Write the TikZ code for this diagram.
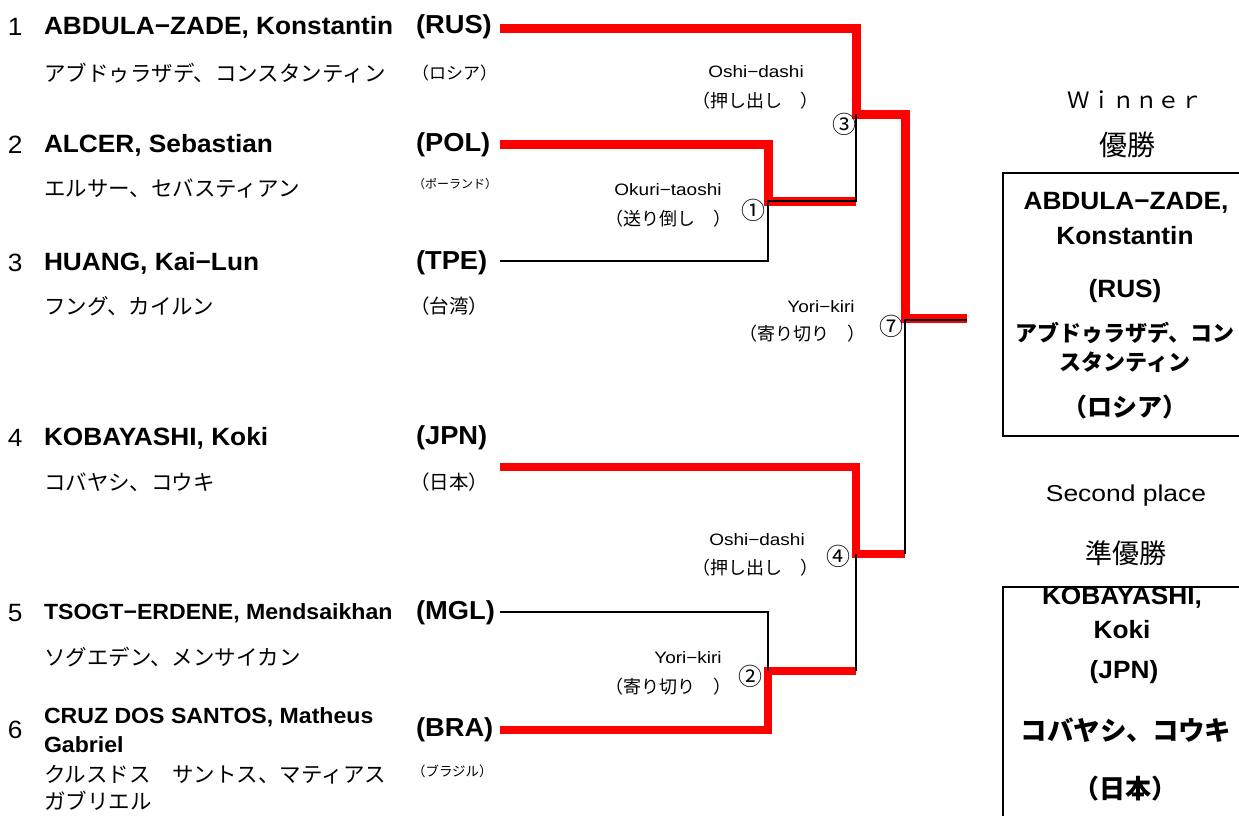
\documentclass[tikz,border=0pt]{standalone}
\usepackage{fontspec}
\setmainfont{Liberation Sans}[FakeStretch=1.05]
\newfontfamily\wide{Liberation Sans}[FakeStretch=1.15]
\newfontfamily\cjk{Noto Sans CJK JP}
\begin{document}
\begin{tikzpicture}[x=1pt,y=-1pt,
  every node/.style={inner sep=0pt,outer sep=0pt},
  num/.style={anchor=west,font=\fontsize{25}{25}\selectfont},
  nm/.style={anchor=west,font=\fontsize{25}{25}\selectfont\bfseries},
  nms/.style={anchor=west,font=\fontsize{22}{22}\selectfont\bfseries},
  jp/.style={anchor=west,font=\cjk\fontsize{21.5}{21.5}\selectfont},
  ctry/.style={anchor=west,font=\fontsize{26}{26}\selectfont\bfseries},
  ctryjp/.style={anchor=west,font=\cjk\fontsize{#1}{#1}\selectfont},
  tech/.style={font=\wide\fontsize{16.5}{16.5}\selectfont},
  techjp/.style={font=\cjk\fontsize{18}{18}\selectfont},
  circ/.style={font=\cjk\fontsize{24}{24}\selectfont},
  win/.style={line width=9pt,red,line join=miter},
  winb/.style={line width=7.5pt,red,line join=miter},
  lose/.style={line width=1.6pt,black},
  boxt/.style={font=\fontsize{25}{25}\selectfont\bfseries},
  boxjp/.style={font=\cjk\bfseries\fontsize{#1}{#1}\selectfont},
  head/.style={font=\cjk\fontsize{#1}{#1}\selectfont},
  resbox/.style={draw,line width=2.5pt,anchor=north west,minimum width=260pt}
]
\useasboundingbox (0,0) rectangle (1239,815);
\clip (0,0) rectangle (1239,815);

% ---- competitors ----
\node[num] (n1) at (8,27) {1};
\node[nm] (p1) at (44,27) {ABDULA−ZADE, Konstantin};
\node[ctry] (c1) at (416,27) {(RUS)};
\node[jp] (j1) at (44,73) {アブドゥラザデ、コンスタンティン};
\node[ctryjp=17] (cj1) at (412,73) {（ロシア）};

\node[num] (n2) at (8,145) {2};
\node[nm] (p2) at (44,145) {ALCER, Sebastian};
\node[ctry] (c2) at (416,145) {(POL)};
\node[jp] (j2) at (44,189) {エルサー、セバスティアン};
\node[ctryjp=12] (cj2) at (413,184) {（ポーランド）};

\node[num] (n3) at (8,263) {3};
\node[nm] (p3) at (44,263) {HUANG, Kai−Lun};
\node[ctry] (c3) at (416,263) {(TPE)};
\node[jp] (j3) at (44,306) {フング、カイルン};
\node[ctryjp=19.5] (cj3) at (410,306) {（台湾）};

\node[num] (n4) at (8,438) {4};
\node[nm] (p4) at (44,438) {KOBAYASHI, Koki};
\node[ctry] (c4) at (416,438) {(JPN)};
\node[jp] (j4) at (44,482) {コバヤシ、コウキ};
\node[ctryjp=19.5] (cj4) at (410,482) {（日本）};

\node[num] (n5) at (8,613) {5};
\node[nms] (p5) at (44,613) {TSOGT−ERDENE, Mendsaikhan};
\node[ctry] (c5) at (416,613) {(MGL)};
\node[jp] (j5) at (44,657) {ソグエデン、メンサイカン};

\node[num] (n6) at (8,730) {6};
\node[nms] (p6a) at (44,717) {CRUZ DOS SANTOS, Matheus};
\node[nms] (p6b) at (44,745) {Gabriel};
\node[ctry] (c6) at (416,730) {(BRA)};
\node[jp] (j6a) at (44,775) {クルスドス　サントス、マティアス};
\node[jp] (j6b) at (44,801) {ガブリエル};
\node[ctryjp=13.5] (cj6) at (412,771) {（ブラジル）};

% ---- bracket coordinates ----
\coordinate (r1) at (500,28);
\coordinate (r2) at (500,144);
\coordinate (r3) at (500,261);
\coordinate (r4) at (500,467);
\coordinate (r5) at (500,612);
\coordinate (r6) at (500,730);
\coordinate (a1) at (768,144);
\coordinate (b1) at (768,261);
\coordinate (m1) at (768,201);
\coordinate (a2) at (768,612);
\coordinate (b2) at (768,730);
\coordinate (m2) at (768,671);
\coordinate (a3) at (856,28);
\coordinate (b3) at (856,201);
\coordinate (m3) at (856,114);
\coordinate (a4) at (856,467);
\coordinate (b4) at (856,671);
\coordinate (m4) at (856,554);
\coordinate (a7) at (905,114);
\coordinate (b7) at (905,554);
\coordinate (m7) at (905,318);
\coordinate (f7) at (967,318);
\coordinate (m7b) at (905,320);
\coordinate (f7b) at (967,320);

% ---- winners (red) ----
\draw[win] (r1) -- (a3) -- (m3) -- (a7) -- (m7) -- (f7);
\draw[win] (r2) -- (a1) -- (m1) -- (b3);
\draw[winb] (r4) -- (a4) -- (m4) -- (b7);
\draw[winb] (r6) -- (b2) -- (m2) -- (b4);

% ---- losers (black) ----
\draw[lose] (r3) -- (b1) -- (m1) -- (b3) -- (m3);
\draw[lose] (r5) -- (a2) -- (m2);
\draw[lose] (b4) -- (m4);
\draw[lose] (b7) -- (m7b) -- (f7b);

% ---- match labels ----
\node[circ] (k1) at (753,210) {①};
\node[circ] (k2) at (750,676) {②};
\node[circ] (k3) at (844,124) {③};
\node[circ] (k4) at (838,556) {④};
\node[circ] (k7) at (891,326) {⑦};

\node[tech] (t3a) at (756,72) {Oshi−dashi};
\node[techjp] (t3b) at (755,101) {（押し出し　）};
\node[tech] (t1a) at (668,190) {Okuri−taoshi};
\node[techjp] (t1b) at (668,219) {（送り倒し　）};
\node[tech] (t7a) at (821,307) {Yori−kiri};
\node[techjp] (t7b) at (802,334) {（寄り切り　）};
\node[tech] (t4a) at (757,540) {Oshi−dashi};
\node[techjp] (t4b) at (755,568) {（押し出し　）};
\node[tech] (t2a) at (688,658) {Yori−kiri};
\node[techjp] (t2b) at (668,687) {（寄り切り　）};

% ---- results ----
\node[head=22.5] (hw) at (1135,100) {Ｗｉｎｎｅｒ};
\node[head=28] (hw2) at (1127,145) {優勝};
\node[resbox,minimum height=263pt] (wbox) at (1003,173) {};
\node[boxt] (w1) at (1126,203) {ABDULA−ZADE,};
\node[boxt] (w2) at (1125,236) {Konstantin};
\node[boxt] (w3) at (1125,291) {(RUS)};
\node[boxjp=22] (w4) at (1125,333) {アブドゥラザデ、コン};
\node[boxjp=22] (w5) at (1125,362) {スタンティン};
\node[boxjp=25] (w6) at (1125,407) {（ロシア）};

\node[font=\wide\fontsize{23}{23}\selectfont] (hs) at (1126,496) {Second place};
\node[head=27] (hs2) at (1126,553) {準優勝};
\node[resbox,minimum height=300pt] (sbox) at (1003,587) {};
\node[boxt] (s1) at (1122,598) {KOBAYASHI,};
\node[boxt] (s2) at (1122,630) {Koki};
\node[boxt] (s3) at (1124,672) {(JPN)};
\node[boxjp=26.5] (s4) at (1126,730) {コバヤシ、コウキ};
\node[boxjp=26] (s5) at (1125,789) {（日本）};
\end{tikzpicture}
\end{document}
